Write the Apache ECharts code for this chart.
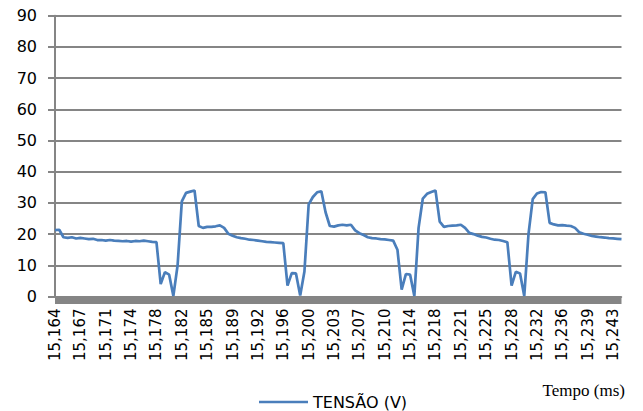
<!DOCTYPE html>
<html>
<head>
<meta charset="utf-8">
<script src="https://cdn.jsdelivr.net/npm/echarts@6/dist/echarts.min.js"></script>
<style>
html,body{margin:0;padding:0;background:#fff;}
#chart{width:643px;height:411px;}
</style>
</head>
<body>
<div id="chart"></div>
<script>
// Tick labels shown on the category axis (every 6th sample)
const tickLabels = ["15,164","15,167","15,171","15,174","15,178","15,182","15,185","15,189","15,192","15,196","15,200","15,203","15,207","15,210","15,214","15,218","15,221","15,225","15,228","15,232","15,236","15,239","15,243"];
const labelStep = 6;
const seriesName = "TENSÃO (V)";
// Voltage samples
const tensao = [
 21.3,21.4,19.0,18.8,19.0,18.6,18.8,18.6,18.4,18.5,
 18.1,18.1,17.9,18.1,17.9,17.8,17.7,17.8,17.6,17.8,
 17.7,17.9,17.7,17.5,17.4,4.0,7.8,7.0,0.2,10.0,
 30.5,33.2,33.6,34.0,22.6,22.0,22.3,22.3,22.5,22.8,
 22.0,20.1,19.5,19.0,18.7,18.5,18.2,18.1,17.9,17.7,
 17.5,17.4,17.3,17.2,17.1,3.5,7.5,7.4,0.3,8.0,
 29.5,31.9,33.4,33.7,27.0,22.6,22.4,22.8,23.0,22.8,
 23.0,21.2,20.3,19.7,19.0,18.7,18.6,18.4,18.3,18.1,
 17.9,15.0,2.2,7.2,7.0,0.2,22.0,31.4,32.9,33.5,
 34.0,24.0,22.3,22.6,22.7,22.8,23.0,22.0,20.4,20.0,
 19.5,19.1,18.9,18.5,18.2,18.1,17.8,17.4,3.5,7.9,
 7.4,0.2,20.0,31.2,33.0,33.5,33.4,23.6,23.1,22.8,
 22.9,22.7,22.6,22.0,20.6,20.1,19.8,19.4,19.2,19.0,
 18.9,18.7,18.6,18.5,18.4
];
const categories = tensao.map((v, i) => String(i));

const chart = echarts.init(document.getElementById('chart'), null, {renderer: 'svg'});
const gray = '#858585';
chart.setOption({
  animation: false,
  backgroundColor: '#ffffff',
  grid: {left: 55, right: 21.5, top: 15.7, bottom: 114.5, containLabel: false},
  xAxis: [{
    type: 'category',
    data: categories,
    boundaryGap: false,
    axisLine: {show: true, lineStyle: {color: gray, width: 1.5}},
    axisTick: {show: false},
    axisLabel: {
      show: true,
      interval: labelStep - 1,
      rotate: 90,
      hideOverlap: false,
      margin: 12,
      color: '#000',
      fontFamily: 'DejaVu Sans',
      fontSize: 15,
      formatter: function (value) {
        const i = Number(value);
        return i % labelStep === 0 ? (tickLabels[i / labelStep] || '') : '';
      }
    },
    splitLine: {show: false}
  }, {
    type: 'category',
    data: categories,
    boundaryGap: false,
    position: 'bottom',
    offset: 3.5,
    axisLine: {show: true, lineStyle: {color: gray, width: 7, cap: 'butt'}},
    axisTick: {show: false},
    axisLabel: {show: false},
    splitLine: {show: false}
  }],
  yAxis: {
    type: 'value',
    min: 0,
    max: 90,
    interval: 10,
    axisLine: {show: true, lineStyle: {color: gray, width: 2}},
    axisTick: {show: true, length: 7, lineStyle: {color: gray, width: 2}},
    axisLabel: {margin: 18, color: '#000', fontFamily: 'DejaVu Sans', fontSize: 16},
    splitLine: {show: true, lineStyle: {color: gray, width: 2}}
  },
  legend: {
    left: 254,
    top: 389,
    icon: 'rect',
    itemWidth: 49,
    itemHeight: 2.5,
    itemGap: 5,
    textStyle: {color: '#000', fontFamily: 'DejaVu Sans', fontSize: 16},
    data: [seriesName]
  },
  graphic: [{
    id: 'xname',
    type: 'text',
    right: 18,
    top: 382,
    style: {text: 'Tempo (ms)', font: '17px "Liberation Serif"', fill: '#000'}
  }],
  series: [{
    name: seriesName,
    type: 'line',
    xAxisIndex: 0,
    data: tensao,
    symbol: 'none',
    smooth: false,
    lineStyle: {color: '#4a7ebb', width: 2.7},
    itemStyle: {color: '#4a7ebb'}
  }]
});
</script>
</body>
</html>
